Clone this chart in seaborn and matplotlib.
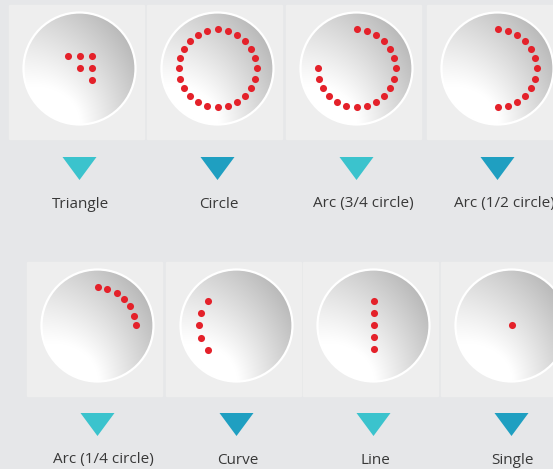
import numpy as np
import pandas as pd
import matplotlib.pyplot as plt
from matplotlib.patches import Rectangle, Circle, Polygon
import seaborn as sns

### Dados (padrões de pontos)
padroes = ["Triangle", "Circle", "Arc (3/4 circle)", "Arc (1/2 circle)",
           "Arc (1/4 circle)", "Curve", "Line", "Single"]
# padrões em grade (passo de 12 px)
grade_dx = {"Triangle": [-1, 0, 1, 0, 1, 1], "Line": [0, 0, 0, 0, 0], "Single": [0]}
grade_dy = {"Triangle": [-1, -1, -1, 0, 0, 1], "Line": [-2, -1, 0, 1, 2], "Single": [0]}
# padrões em anel (graus a partir das 12h, sentido horário)
anel_inicio = {"Circle": 0, "Arc (3/4 circle)": 0, "Arc (1/2 circle)": 0,
               "Arc (1/4 circle)": 0, "Curve": 230}
anel_fim = {"Circle": 345, "Arc (3/4 circle)": 270, "Arc (1/2 circle)": 180,
            "Arc (1/4 circle)": 90, "Curve": 310}
anel_passo = {"Circle": 15, "Arc (3/4 circle)": 15, "Arc (1/2 circle)": 15,
              "Arc (1/4 circle)": 15, "Curve": 20}
cores_seta = ["#3bc3cd", "#1f9fc1", "#3bc3cd", "#1f9fc1",
              "#3bc3cd", "#1f9fc1", "#3bc3cd", "#1f9fc1"]

### Layout (pixels)
W, H = 553, 469
painel_x = [9, 147, 286, 427, 27, 166, 303, 441]
painel_y = [5, 5, 5, 5, 262, 262, 262, 262]
painel_w, painel_h = 135, 134
R = 56
passo_grade = 12
raio_anel = {"Circle": 39, "Arc (3/4 circle)": 39, "Arc (1/2 circle)": 39,
             "Arc (1/4 circle)": 38, "Curve": 37.5}
desloc_texto = {"Arc (3/4 circle)": 7, "Arc (1/2 circle)": 7, "Arc (1/4 circle)": 6}

sns.set_theme(style="white")
plt.rcParams["font.family"] = ["Open Sans", "DejaVu Sans"]

fig = plt.figure(figsize=(W / 100, H / 100), dpi=100)
fig.patch.set_facecolor("#e6e7e9")
ax = fig.add_axes([0, 0, 1, 1])
ax.set_facecolor("#e6e7e9")

# gradiente do círculo (claro embaixo à esquerda, escuro em cima à direita)
u, v = np.meshgrid(np.linspace(-1, 1, 200), np.linspace(-1, 1, 200))
d = np.sqrt((u + 0.35) ** 2 + (v - 1.0) ** 2)
g = np.clip(1.05 - 0.135 * d - 0.075 * u, 0, 1)
grad = np.dstack([g, g, g])

linhas = []
for i, nome in enumerate(padroes):
    px, py = painel_x[i], painel_y[i]
    cx, cy = px + 70.5, py + 63.5
    ax.add_patch(Rectangle((px, py), painel_w, painel_h, color="#eeeeee", zorder=1))
    borda = Circle((cx, cy), R, facecolor="none", edgecolor="white", lw=1.6, zorder=3)
    im = ax.imshow(grad, extent=(cx - R, cx + R, cy + R, cy - R), zorder=2,
                   interpolation="bilinear")
    clip = Circle((cx, cy), R, transform=ax.transData)
    im.set_clip_path(clip)
    ax.add_patch(borda)
    # seta
    ty = 157 if py < 100 else 413
    ax.add_patch(Polygon([(cx - 17, ty), (cx + 17, ty), (cx, ty + 23)],
                         closed=True, color=cores_seta[i], zorder=2, lw=0))
    ax.text(cx + desloc_texto.get(nome, 1.5), ty + 47, nome, ha="center", va="center",
            fontsize=11, color="#383838")
    # pontos
    if nome in grade_dx:
        for dx, dy in zip(grade_dx[nome], grade_dy[nome]):
            linhas.append({"padrao": nome, "x": cx + dx * passo_grade, "y": cy + dy * passo_grade})
    else:
        ang = np.deg2rad(np.arange(anel_inicio[nome], anel_fim[nome] + 1, anel_passo[nome]))
        r = raio_anel[nome]
        for a in ang:
            linhas.append({"padrao": nome, "x": cx + r * np.sin(a), "y": cy - r * np.cos(a)})

pontos = pd.DataFrame(linhas)
sns.scatterplot(data=pontos, x="x", y="y", color="#e4212a", s=26, linewidth=0,
                ax=ax, zorder=5, legend=False)

ax.set_xlim(0, W)
ax.set_ylim(H, 0)
ax.set_axis_off()
plt.savefig("out.png", dpi=100)
